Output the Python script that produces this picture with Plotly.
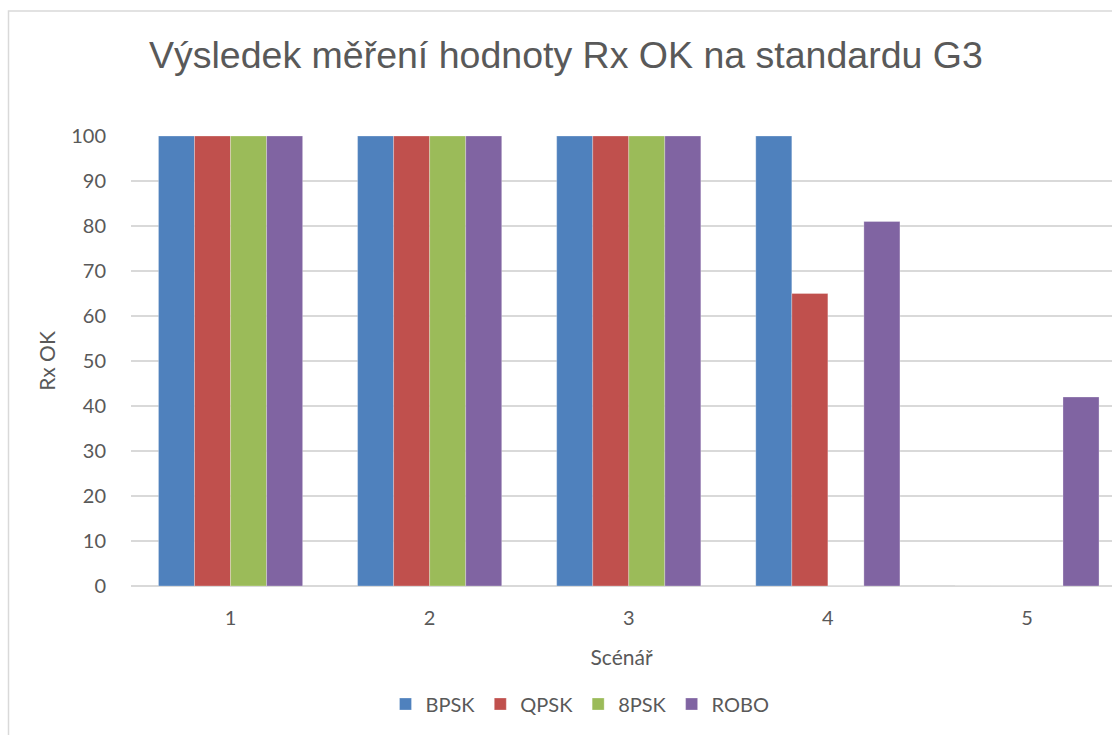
import plotly.graph_objects as go

categories = ["1", "2", "3", "4", "5"]
series_names = ["BPSK", "QPSK", "8PSK", "ROBO"]
bpsk = [100, 100, 100, 100, 0]
qpsk = [100, 100, 100, 65, 0]
psk8 = [100, 100, 100, 0, 0]
robo = [100, 100, 100, 81, 42]
colors = ["#4F81BD", "#C0504D", "#9BBB59", "#8064A2"]
y_ticks = list(range(0, 101, 10))

W, H = 1112, 735
L, R, T, B = 131, 0, 136, 149
pw = W - L - R
ph = H - T - B

def px_x(px):
    return (px - L) / pw

def px_y(py):
    return (H - B - py) / ph

fig = go.Figure()
for name, vals, col in zip(series_names, [bpsk, qpsk, psk8, robo], colors):
    fig.add_trace(go.Bar(
        x=categories, y=vals, name=name,
        marker=dict(color=col, line=dict(color="rgba(255,255,255,0.35)", width=0.8)),
    ))

TXT = "#595959"
fig.update_layout(
    width=W, height=H,
    margin=dict(l=L, r=R, t=T, b=B),
    paper_bgcolor="white", plot_bgcolor="white",
    barmode="group", bargap=0.276, bargroupgap=0,
    font=dict(family="Lato, Open Sans, sans-serif", color=TXT, size=20),
    showlegend=True,
    legend=dict(
        orientation="h", xanchor="center", yanchor="middle",
        x=px_x(580), y=px_y(704),
        font=dict(size=20, color=TXT),
        traceorder="normal",
    ),
    xaxis=dict(
        type="category", range=[-0.5, (W - 231) / 199.0],
        showgrid=False, zeroline=False, showline=False, ticks="",
        tickfont=dict(size=20, color=TXT), ticklabelstandoff=18,
        title=dict(text="Scénář", font=dict(size=21, color=TXT), standoff=22),
    ),
    yaxis=dict(
        range=[0, 100], tickvals=y_ticks, showgrid=True,
        gridcolor="#D9D9D9", gridwidth=1.5, zeroline=True,
        zerolinecolor="#D9D9D9", zerolinewidth=1.5, showline=False, ticks="",
        tickfont=dict(size=20, color=TXT), ticklabelstandoff=24,
        title=dict(text="Rx OK", font=dict(size=21, color=TXT), standoff=9),
    ),
    annotations=[dict(
        text="Výsledek měření hodnoty Rx OK na standardu G3",
        xref="paper", yref="paper", x=px_x(566), y=px_y(55),
        xanchor="center", yanchor="middle", showarrow=False,
        font=dict(family="Liberation Sans, Arial, sans-serif", size=37.5, color=TXT),
    )],
    shapes=[dict(
        type="rect", xref="paper", yref="paper",
        x0=px_x(8.5), x1=px_x(W + 20), y0=px_y(H + 20), y1=px_y(11),
        line=dict(color="#D9D9D9", width=1.5), fillcolor="rgba(0,0,0,0)",
        layer="below",
    )],
)

fig.write_html(
    "out.html",
    config={"displayModeBar": False},
    post_script="document.body.style.margin='0px';document.body.style.overflow='hidden';",
)
